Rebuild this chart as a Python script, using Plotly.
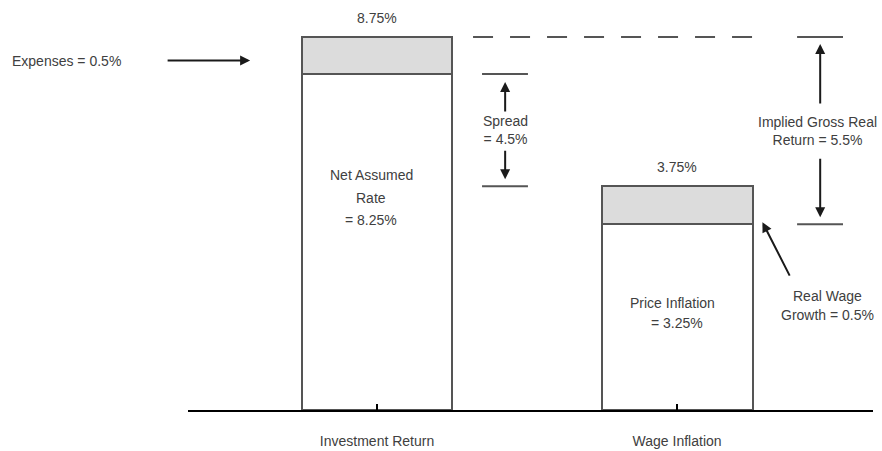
import plotly.graph_objects as go

# ---- data (drawn block heights in chart units, as they appear in the picture) ----
categories = ["Investment Return", "Wage Inflation"]
base_values = [7.88, 4.36]      # white (lower) blocks
top_values = [0.87, 0.89]       # grey (upper) blocks
total_labels = ["8.75%", "3.75%"]
inv_text = ["Net Assumed", "Rate", "= 8.25%"]
wage_text = ["Price Inflation", "= 3.25%"]
spread_text = "Spread<br>= 4.5%"
gross_text = "Implied Gross Real<br>Return = 5.5%"
expense_text = "Expenses = 0.5%"
realwage_text = ["Real Wage", "Growth = 0.5%"]

totals = [b + t for b, t in zip(base_values, top_values)]

W, H = 882, 451
ML, MR, MT, MB = 188, 9, 5, 41
Y_MAX = 9.5
X_RANGE = [-0.63, 1.653]
BAR_W = 0.503
PW = W - ML - MR
ppu = (H - MT - MB) / Y_MAX  # pixels per unit

FONT = "Liberation Sans, Arial, sans-serif"
TXT = "#404040"
EDGE = "#555555"
FS = 14

fig = go.Figure()
fig.add_bar(x=categories, y=base_values, width=BAR_W, marker=dict(color="white", line=dict(color=EDGE, width=2)),
            hoverinfo="skip")
fig.add_bar(x=categories, y=top_values, width=BAR_W, marker=dict(color="#dcdcdc", line=dict(color=EDGE, width=2)),
            hoverinfo="skip")

ann = []
def text(x, y, s, xanchor="center", yshift=0, size=FS):
    ann.append(dict(x=x, y=y, text=s, showarrow=False, xanchor=xanchor, yanchor="middle",
                    yshift=yshift, font=dict(family=FONT, size=size, color=TXT)))

def arrow(x, y, ax, ay, yshift=0):
    ann.append(dict(x=x, y=y, ax=ax, ay=ay, text="", showarrow=True, arrowhead=2, arrowsize=1,
                    arrowwidth=2, arrowcolor="#1a1a1a", yshift=yshift, standoff=0))

# totals above bars
for i, lab in enumerate(total_labels):
    text(i, totals[i], lab, yshift=19)

# inner texts
inv_px = [175, 198, 220]
for s, py in zip(inv_text, inv_px):
    text(-0.02, (H - MB - py) / ppu, s)
wage_px = [303, 323]
text(0.985, (H - MB - wage_px[0]) / ppu, wage_text[0])
text(1.0, (H - MB - wage_px[1]) / ppu, wage_text[1])

# expenses arrow
exp_mid = base_values[0] + top_values[0] / 2
arrow(-0.423, exp_mid, -84, 0, yshift=-5)
ann.append(dict(x=(10 - ML) / PW, xref="paper", y=exp_mid, yref="y", text=expense_text, showarrow=False,
                xanchor="left", yanchor="middle", yshift=-5, font=dict(family=FONT, size=FS, color=TXT)))

shapes = []
def hline(x0, x1, y, dash="solid"):
    shapes.append(dict(type="line", xref="x", yref="y", x0=x0, x1=x1, y0=y, y1=y,
                       line=dict(color=EDGE, width=2, dash=dash)))

# dashed line from top of investment bar
hline(0.32, 1.277, totals[0], dash="20px,17px")

# spread
sx0, sx1, sxa = 0.35, 0.503, 0.427
hline(sx0, sx1, base_values[0])
hline(sx0, sx1, totals[1])
arrow(sxa, base_values[0], 0, 31, yshift=-8)
arrow(sxa, totals[1], 0, -30, yshift=7)
text(sxa, (base_values[0] + totals[1]) / 2, spread_text)

# implied gross real return
gx0, gx1, gxa = 1.40, 1.553, 1.477
hline(gx0, gx1, totals[0])
hline(gx0, gx1, base_values[1])
arrow(gxa, totals[0], 0, 61, yshift=-7)
arrow(gxa, base_values[1], 0, -60, yshift=7)
text(1.467, (totals[0] + base_values[1]) / 2, gross_text)

# real wage growth
arrow(1 + BAR_W / 2 + 0.033, base_values[1], 28, 55, yshift=2)
text(1.503, (H - MB - 296) / ppu, realwage_text[0])
text(1.503, (H - MB - 315) / ppu, realwage_text[1])

fig.update_layout(
    width=W, height=H, barmode="stack", showlegend=False,
    margin=dict(l=ML, r=MR, t=MT, b=MB, pad=0),
    paper_bgcolor="white", plot_bgcolor="white",
    annotations=ann, shapes=shapes,
    bargap=0,
)
fig.update_xaxes(range=X_RANGE, showgrid=False, showline=True, linecolor="black", linewidth=2,
                 ticks="inside", ticklen=6, tickcolor="black", tickwidth=1.5, automargin=False,
                 tickfont=dict(family=FONT, size=FS, color=TXT), ticklabelstandoff=17, zeroline=False)
fig.update_yaxes(range=[0, Y_MAX], visible=False, showgrid=False, zeroline=False, automargin=False)

fig.write_html("out.html")
